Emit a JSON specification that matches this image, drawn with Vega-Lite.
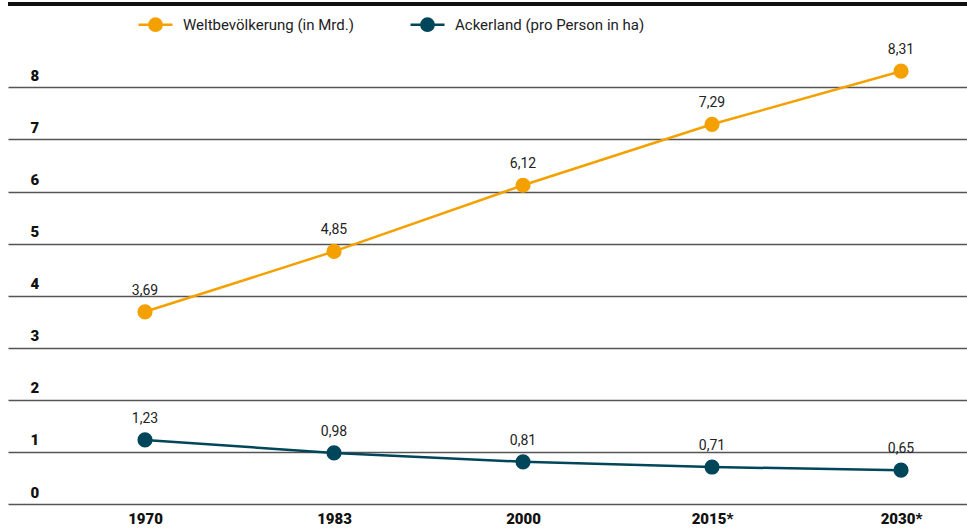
{
  "$schema": "https://vega.github.io/schema/vega-lite/v6.json",
  "width": 959,
  "height": 500,
  "autosize": "none",
  "padding": {"left": 8, "top": 4, "right": 0, "bottom": 24},
  "background": "white",
  "config": {
    "view": {"stroke": null},
    "font": "Roboto",
    "locale": {"number": {"decimal": ",", "thousands": ".", "grouping": [3], "currency": ["", " €"]}},
    "legend": {
      "symbolType": "M-1,0L1,0M-0.36,0A0.36,0.36,0,1,0,0.36,0A0.36,0.36,0,1,0,-0.36,0Z",
      "symbolSize": 1156,
      "symbolStrokeWidth": 2.5
    }
  },
  "data": {
    "values": [
      {"jahr": "1970", "serie": "Weltbevölkerung (in Mrd.)", "wert": 3.69},
      {"jahr": "1983", "serie": "Weltbevölkerung (in Mrd.)", "wert": 4.85},
      {"jahr": "2000", "serie": "Weltbevölkerung (in Mrd.)", "wert": 6.12},
      {"jahr": "2015*", "serie": "Weltbevölkerung (in Mrd.)", "wert": 7.29},
      {"jahr": "2030*", "serie": "Weltbevölkerung (in Mrd.)", "wert": 8.31},
      {"jahr": "1970", "serie": "Ackerland (pro Person in ha)", "wert": 1.23},
      {"jahr": "1983", "serie": "Ackerland (pro Person in ha)", "wert": 0.98},
      {"jahr": "2000", "serie": "Ackerland (pro Person in ha)", "wert": 0.81},
      {"jahr": "2015*", "serie": "Ackerland (pro Person in ha)", "wert": 0.71},
      {"jahr": "2030*", "serie": "Ackerland (pro Person in ha)", "wert": 0.65}
    ]
  },
  "encoding": {
    "x": {
      "field": "jahr",
      "type": "ordinal",
      "sort": null,
      "scale": {"type": "point", "padding": 0.537, "align": 0.675},
      "axis": {
        "title": null, "domain": false, "ticks": false, "grid": false,
        "labelAngle": 0, "labelFontSize": 15, "labelFontWeight": 900,
        "labelColor": "#111", "labelPadding": 7, "labelFont": "Roboto"
      }
    },
    "y": {
      "field": "wert",
      "type": "quantitative",
      "scale": {"domain": [0, 9.6], "nice": false, "zero": true},
      "axis": {
        "title": null, "domain": false, "ticks": false, "grid": true,
        "values": [0, 1, 2, 3, 4, 5, 6, 7, 8],
        "gridColor": "#555555", "gridWidth": 1.3,
        "labelAlign": "left", "labelPadding": -22, "labelBaseline": "alphabetic",
        "labelOffset": -7, "labelFontSize": 15, "labelFontWeight": 900,
        "labelColor": "#111", "labelFont": "Roboto"
      }
    }
  },
  "layer": [
    {
      "mark": {"type": "rule", "color": "#111", "strokeWidth": 3},
      "encoding": {"y": {"datum": 9.6}, "x": null}
    },
    {
      "mark": {"type": "line", "strokeWidth": 2.5},
      "encoding": {
        "color": {
          "field": "serie",
          "type": "nominal",
          "scale": {"domain": ["Weltbevölkerung (in Mrd.)", "Ackerland (pro Person in ha)"], "range": ["#f4a100", "#00465a"]},
          "legend": {
            "title": null, "orient": "none", "direction": "horizontal",
            "legendX": 129, "legendY": 2, "padding": 0,
            "labelFontSize": 15, "labelColor": "#222", "labelOffset": 9,
            "labelLimit": 400, "columnPadding": 51, "labelFont": "Roboto",
            "encode": {"symbols": {"update": {"fill": {"scale": "color", "field": "value"}, "stroke": {"scale": "color", "field": "value"}}}}
          }
        }
      }
    },
    {
      "mark": {"type": "circle", "size": 230, "opacity": 1},
      "encoding": {
        "color": {"field": "serie", "type": "nominal", "legend": null}
      }
    },
    {
      "mark": {"type": "text", "dy": -17, "baseline": "alphabetic", "fontSize": 14, "color": "#222", "font": "Roboto"},
      "encoding": {
        "text": {"field": "wert", "type": "quantitative", "format": ".2f"}
      }
    }
  ]
}
